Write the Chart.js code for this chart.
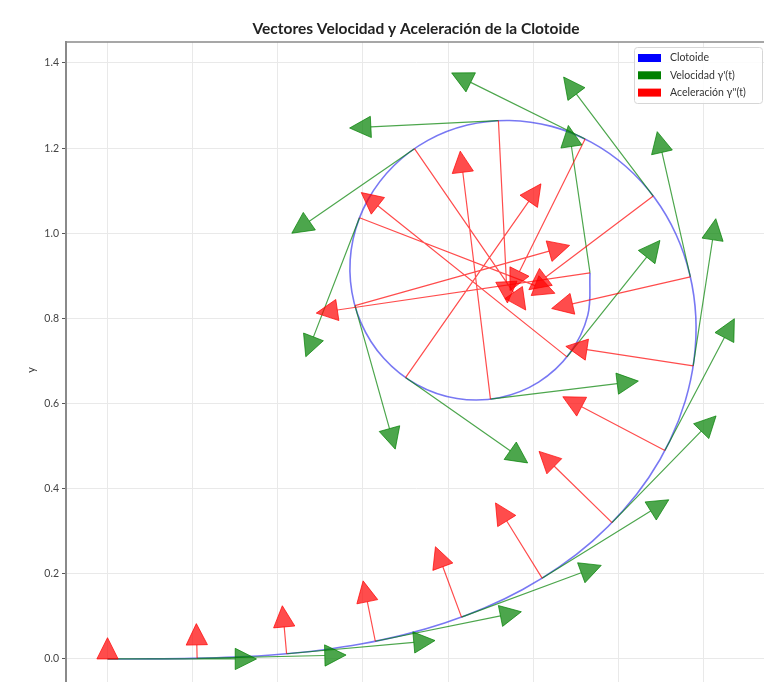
<!DOCTYPE html>
<html lang="es">
<head>
<meta charset="utf-8">
<title>Vectores Velocidad y Aceleración de la Clotoide</title>
<script src="https://cdn.jsdelivr.net/npm/chart.js@4.4.1/dist/chart.umd.min.js"></script>
<style>
  html, body { margin: 0; padding: 0; overflow: hidden; background: #fff; }
  canvas { display: block; }
</style>
</head>
<body>
<canvas id="chart" width="766" height="698"></canvas>
<script>
// clotoide x(t) = int cos(s^2/2), y(t) = int sin(s^2/2), t = 0..4 (paso 0.1)
const curveX = [0, 0.1000, 0.2000, 0.2999, 0.3997, 0.4992, 0.5981, 0.6958, 0.7919, 0.8854, 0.9754, 1.0605, 1.1394,
  1.2103, 1.2716, 1.3212, 1.3573, 1.3780, 1.3820, 1.3680, 1.3356, 1.2851, 1.2178, 1.1360, 1.0434, 0.9446, 0.8455,
  0.7525, 0.6725, 0.6121, 0.5769, 0.5708, 0.5953, 0.6490, 0.7269, 0.8209, 0.9204, 1.0128, 1.0857, 1.1283, 1.1335];
const curveY = [0, 0.0001, 0.0013, 0.0044, 0.0105, 0.0206, 0.0357, 0.0566, 0.0844, 0.1197, 0.1633, 0.2157, 0.2770,
  0.3474, 0.4264, 0.5131, 0.6063, 0.7040, 0.8037, 0.9026, 0.9971, 1.0832, 1.1568, 1.2140, 1.2511, 1.2650, 1.2541,
  1.2181, 1.1586, 1.0793, 0.9861, 0.8867, 0.7902, 0.7063, 0.6443, 0.6119, 0.6137, 0.6504, 0.7180, 0.8078, 0.9070];

// 20 puntos de muestra con sus vectores
const sampleX = [0, 0.2105, 0.4207, 0.6291, 0.8316, 1.0209, 1.1852, 1.3094, 1.3758, 1.3692,
  1.2820, 1.1220, 0.9183, 0.7211, 0.5920, 0.5813, 0.7001, 0.8996, 1.0793, 1.1335];
const sampleY = [0, 0.0015, 0.0123, 0.0416, 0.0983, 0.1898, 0.3204, 0.4896, 0.6883, 0.8975,
  1.0874, 1.2213, 1.2646, 1.1987, 1.0364, 0.8299, 0.6610, 0.6104, 0.7097, 0.9070];
const velX = [1, 0.9998, 0.9961, 0.9802, 0.9378, 0.8504, 0.6983, 0.4661, 0.1519, -0.2223,
  -0.6014, -0.8960, -0.9988, -0.8233, -0.3606, 0.2704, 0.8196, 0.9927, 0.6241, -0.1455];
const velY = [0, 0.0222, 0.0885, 0.1981, 0.3472, 0.5261, 0.7158, 0.8847, 0.9884, 0.9750,
  0.7989, 0.4441, -0.0495, -0.5676, -0.9327, -0.9628, -0.5729, 0.1210, 0.7814, 0.9894];
const accX = [0, -0.0047, -0.0373, -0.1251, -0.2924, -0.5538, -0.9042, -1.3038, -1.6647, -1.8473,
  -1.6820, -1.0284, 0.1251, 1.5534, 2.7491, 3.0403, 1.9298, -0.4329, -2.9610, -3.9574];
const accY = [0, 0.2105, 0.4194, 0.6191, 0.7897, 0.8952, 0.8821, 0.6869, 0.2559, -0.4213,
  -1.2662, -2.0749, -2.5232, -2.2533, -1.0628, 0.8538, 2.7608, 3.5527, 2.3648, -0.5820];

const yTicks = [0, 0.2, 0.4, 0.6, 0.8, 1.0, 1.2, 1.4];

// escala de los vectores y tamaño de la punta (unidades de datos)
const VEL_SCALE = 0.3;
const ACC_SCALE = 0.15;
const HEAD_W = 0.05;
const HEAD_L = 0.05;

const GREEN = "rgba(0,128,0,0.7)";
const RED = "rgba(255,0,0,0.7)";

const curvePoints = curveX.map((x, i) => ({ x, y: curveY[i] }));

function shaftData(vx, vy, k) {
  const pts = [];
  sampleX.forEach((x0, i) => {
    pts.push({ x: x0, y: sampleY[i] });
    pts.push({ x: x0 + vx[i] * k, y: sampleY[i] + vy[i] * k });
    pts.push({ x: null, y: null });
  });
  return pts;
}

// arrow heads, drawn through the chart scales
const arrowHeads = {
  id: "arrowHeads",
  afterDatasetsDraw(chart) {
    const { ctx, chartArea, scales: { x, y } } = chart;
    ctx.save();
    ctx.beginPath();
    ctx.rect(chartArea.left, chartArea.top, chartArea.right - chartArea.left, chartArea.bottom - chartArea.top);
    ctx.clip();
    const draw = (vx, vy, k, color) => {
      ctx.fillStyle = color;
      ctx.strokeStyle = color;
      ctx.lineWidth = 1;
      sampleX.forEach((x0, i) => {
        const dx = vx[i] * k, dy = vy[i] * k;
        const len = Math.hypot(dx, dy);
        const ux = len ? dx / len : 0, uy = len ? dy / len : 1;
        const ex = x0 + dx, ey = sampleY[i] + dy;
        const nx = -uy * HEAD_W / 2, ny = ux * HEAD_W / 2;
        ctx.beginPath();
        ctx.moveTo(x.getPixelForValue(ex + ux * HEAD_L), y.getPixelForValue(ey + uy * HEAD_L));
        ctx.lineTo(x.getPixelForValue(ex + nx), y.getPixelForValue(ey + ny));
        ctx.lineTo(x.getPixelForValue(ex - nx), y.getPixelForValue(ey - ny));
        ctx.closePath();
        ctx.fill();
        ctx.stroke();
      });
    };
    draw(velX, velY, VEL_SCALE, GREEN);
    draw(accX, accY, ACC_SCALE, RED);
    ctx.restore();
  }
};

// frame (top spine) and legend inside the axes
const frameAndLegend = {
  id: "frameAndLegend",
  afterDraw(chart) {
    const { ctx, chartArea } = chart;
    ctx.save();
    ctx.strokeStyle = "#8a8a8a";
    ctx.lineWidth = 1.6;
    ctx.beginPath();
    ctx.moveTo(chartArea.left - 1, chartArea.top);
    ctx.lineTo(chartArea.right, chartArea.top);
    ctx.stroke();

    const items = chart.data.datasets;
    const bw = 128, bh = 56;
    const bx = chartArea.right - 4 - bw, by = chartArea.top + 5;
    ctx.fillStyle = "rgba(255,255,255,0.85)";
    ctx.strokeStyle = "#d6d6d6";
    ctx.lineWidth = 1;
    ctx.beginPath();
    ctx.roundRect(bx + 0.5, by + 0.5, bw, bh, 3);
    ctx.fill();
    ctx.stroke();
    ctx.font = "10.5px Lato";
    ctx.textBaseline = "middle";
    items.forEach((d, i) => {
      const cy = by + 11 + i * 17.3;
      ctx.fillStyle = d.legendColor;
      ctx.fillRect(bx + 4, cy - 4, 23, 8);
      ctx.fillStyle = "#333";
      ctx.fillText(d.label, bx + 36, cy);
    });
    ctx.restore();
  }
};

// equal aspect: 425.7 px per unit on both axes
const X_MIN = -0.0975, X_MAX = 1.5469;
const Y_MIN = -0.0917, Y_MAX = 1.4493;

new Chart(document.getElementById("chart"), {
  type: "line",
  data: {
    datasets: [
      {
        label: "Clotoide",
        data: curvePoints,
        legendColor: "#0000ff",
        borderColor: "rgba(30,30,235,0.6)",
        borderWidth: 1.6,
        pointRadius: 0,
        tension: 0.36,
        order: 3
      },
      {
        label: "Velocidad γ'(t)",
        data: shaftData(velX, velY, VEL_SCALE),
        legendColor: "#008000",
        borderColor: GREEN,
        borderWidth: 1.2,
        pointRadius: 0,
        tension: 0,
        spanGaps: false,
        order: 2
      },
      {
        label: "Aceleración γ''(t)",
        data: shaftData(accX, accY, ACC_SCALE),
        legendColor: "#ff0000",
        borderColor: RED,
        borderWidth: 1.2,
        pointRadius: 0,
        tension: 0,
        spanGaps: false,
        order: 1
      }
    ]
  },
  options: {
    responsive: false,
    animation: false,
    layout: { padding: 0 },
    plugins: {
      legend: { display: false },
      tooltip: { enabled: false },
      title: {
        display: true,
        text: "Vectores Velocidad y Aceleración de la Clotoide",
        fullSize: false,
        color: "#222",
        font: { family: "Lato", size: 15.5, weight: "bold" },
        padding: { top: 20, bottom: 3.4 }
      }
    },
    scales: {
      x: {
        type: "linear",
        min: X_MIN,
        max: X_MAX,
        ticks: { display: false, stepSize: 0.2, includeBounds: false },
        grid: { color: "#e9e9e9", drawTicks: false },
        border: { display: false },
        afterFit(s) { s.height = 0; s.paddingLeft = 0; s.paddingRight = 0; }
      },
      y: {
        type: "linear",
        min: Y_MIN,
        max: Y_MAX,
        afterBuildTicks(s) { s.ticks = yTicks.map(v => ({ value: v })); },
        ticks: {
          includeBounds: false,
          padding: 3,
          color: "#444",
          font: { family: "Lato", size: 10.5 },
          callback: v => v.toFixed(1)
        },
        grid: { color: "#e9e9e9", tickColor: "#555", tickLength: 4 },
        border: { display: true, color: "#8a8a8a", width: 2 },
        title: {
          display: true,
          text: "y",
          color: "#333",
          font: { family: "Lato", size: 11 },
          padding: { top: 25, bottom: 0 }
        },
        afterFit(s) { s.width = 66; s.paddingTop = 0; s.paddingBottom = 0; }
      }
    }
  },
  plugins: [arrowHeads, frameAndLegend]
});
</script>
</body>
</html>
